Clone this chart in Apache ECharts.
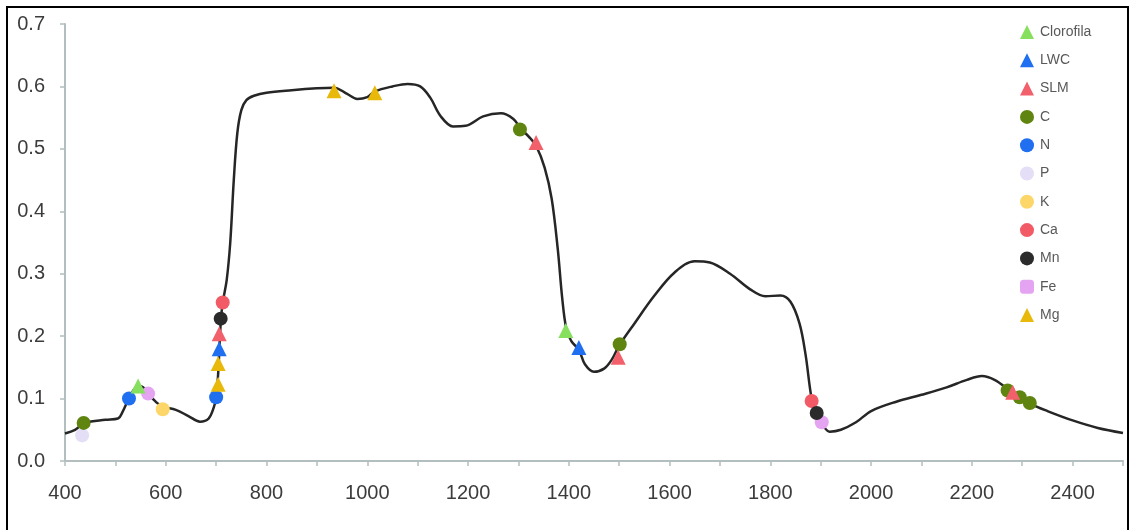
<!DOCTYPE html>
<html lang="en">
<head>
  <meta charset="UTF-8">
  <title>Reflectancia</title>
  <style>
    html, body { margin: 0; padding: 0; background: #fff; }
    #chart { width: 1132px; height: 530px; }
  </style>
</head>
<body>
  <div id="chart"></div>
  <script src="https://cdn.jsdelivr.net/npm/echarts@6/dist/echarts.min.js"></script>
  <script>
    // curva de reflectancia (longitud de onda, reflectancia)
    const wavelengths = [400, 420, 440, 480, 505, 515, 527, 545, 555, 565, 580, 594, 620, 645, 668, 685, 695, 700, 704, 707, 710, 714, 721, 728, 735, 742, 750, 760, 775, 800, 850, 900, 934, 960, 980, 1000, 1015, 1050, 1080, 1105, 1125, 1145, 1170, 1195, 1230, 1265, 1290, 1305, 1320, 1335, 1352, 1366, 1378, 1387, 1395, 1405, 1420, 1432, 1450, 1470, 1485, 1500, 1530, 1570, 1610, 1650, 1680, 1720, 1760, 1790, 1820, 1840, 1858, 1870, 1882, 1892, 1902, 1918, 1940, 1970, 2000, 2050, 2100, 2150, 2190, 2220, 2245, 2272, 2295, 2315, 2350, 2400, 2450, 2500];
    const reflectance = [0.044, 0.050, 0.061, 0.066, 0.068, 0.080, 0.100, 0.120, 0.118, 0.108, 0.095, 0.087, 0.082, 0.072, 0.063, 0.068, 0.085, 0.102, 0.140, 0.190, 0.232, 0.258, 0.290, 0.350, 0.450, 0.525, 0.562, 0.578, 0.585, 0.590, 0.594, 0.597, 0.598, 0.588, 0.580, 0.583, 0.592, 0.600, 0.604, 0.600, 0.582, 0.553, 0.536, 0.537, 0.552, 0.557, 0.548, 0.532, 0.520, 0.505, 0.470, 0.420, 0.340, 0.260, 0.212, 0.192, 0.178, 0.155, 0.143, 0.148, 0.162, 0.185, 0.220, 0.265, 0.302, 0.320, 0.318, 0.300, 0.275, 0.264, 0.265, 0.255, 0.220, 0.170, 0.100, 0.075, 0.060, 0.047, 0.050, 0.062, 0.080, 0.095, 0.106, 0.118, 0.130, 0.136, 0.130, 0.115, 0.102, 0.092, 0.080, 0.065, 0.053, 0.045];

    // marcadores por variable
    const clorofila = [[545, 0.120], [1394, 0.209]];
    const lwc = [[706, 0.180], [1420, 0.182]];
    const slm = [[706, 0.204], [1335, 0.510], [1498, 0.166], [2281, 0.110]];
    const carbono = [[437, 0.061], [1303, 0.531], [1501, 0.187], [2271, 0.113], [2295, 0.102], [2315, 0.093]];
    const nitrogeno = [[527, 0.100], [700, 0.102]];
    const fosforo = [[434, 0.041]];
    const potasio = [[594, 0.083]];
    const calcio = [[713, 0.254], [1882, 0.096]];
    const manganeso = [[709, 0.228], [1892, 0.077]];
    const hierro = [[565, 0.108], [1902, 0.062]];
    const magnesio = [[704, 0.156], [704, 0.123], [934, 0.593], [1015, 0.590]];

    const xTicks = { min: 400, max: 2500, step: 100 };
    const yTicks = { min: 0, max: 0.7, step: 0.1 };

    const chart = echarts.init(document.getElementById('chart'));

    function marker(name, data, symbol, color) {
      return {
        name: name,
        type: 'scatter',
        data: data,
        symbol: symbol,
        symbolSize: symbol === 'triangle' ? 15 : 14,
        itemStyle: { color: color, opacity: 1 },
        z: 3
      };
    }

    const lineData = wavelengths.map((w, i) => [w, reflectance[i]]);

    const option = {
      animation: false,
      grid: { left: 65, right: 9, top: 24, bottom: 69 },
      graphic: [{
        type: 'rect',
        shape: { x: 7, y: 7, width: 1121, height: 530 },
        style: { fill: 'none', stroke: '#000', lineWidth: 2 },
        silent: true
      }],
      legend: {
        orient: 'vertical',
        left: 1015,
        top: 20,
        itemGap: 14.3,
        itemWidth: 14,
        itemHeight: 14,
        textStyle: { fontFamily: 'Liberation Sans', fontSize: 14, color: '#595959', padding: [0, 0, 0, 1] },
        data: [
          { name: 'Clorofila', icon: 'triangle' },
          { name: 'LWC', icon: 'triangle' },
          { name: 'SLM', icon: 'triangle' },
          { name: 'C', icon: 'circle' },
          { name: 'N', icon: 'circle' },
          { name: 'P', icon: 'circle' },
          { name: 'K', icon: 'circle' },
          { name: 'Ca', icon: 'circle' },
          { name: 'Mn', icon: 'circle' },
          { name: 'Fe', icon: 'roundRect' },
          { name: 'Mg', icon: 'triangle' }
        ]
      },
      xAxis: {
        type: 'value',
        min: xTicks.min,
        max: xTicks.max,
        interval: xTicks.step,
        splitLine: { show: false },
        axisLine: { lineStyle: { color: '#b3bfbf', width: 2 } },
        axisTick: { length: 5, lineStyle: { color: '#b3bfbf', width: 1.5 } },
        axisLabel: {
          margin: 22,
          fontFamily: 'Liberation Sans',
          fontSize: 20,
          color: '#3c3c3c',
          formatter: v => (v % 200 === 0 ? String(v) : '')
        }
      },
      yAxis: {
        type: 'value',
        min: yTicks.min,
        max: yTicks.max,
        interval: yTicks.step,
        splitLine: { show: false },
        axisLine: { show: true, lineStyle: { color: '#b3bfbf', width: 2 } },
        axisTick: { show: true, length: 5, lineStyle: { color: '#b3bfbf', width: 1.5 } },
        axisLabel: {
          margin: 20,
          fontFamily: 'Liberation Sans',
          fontSize: 20,
          color: '#3c3c3c',
          formatter: v => v.toFixed(1)
        }
      },
      series: [
        {
          name: 'Reflectancia',
          type: 'line',
          data: lineData,
          smooth: 0.35,
          showSymbol: false,
          lineStyle: { color: '#262626', width: 2.5 },
          z: 2
        },
        marker('P', fosforo, 'circle', '#e4def7'),
        marker('C', carbono, 'circle', '#5f8410'),
        marker('N', nitrogeno, 'circle', '#1f6ff0'),
        marker('K', potasio, 'circle', '#fdd66a'),
        marker('Fe', hierro, 'circle', '#e4a4f2'),
        marker('Ca', calcio, 'circle', '#f25a66'),
        marker('Mn', manganeso, 'circle', '#2b2b2b'),
        marker('Mg', magnesio, 'triangle', '#e8b80a'),
        marker('LWC', lwc, 'triangle', '#1f6ff0'),
        marker('SLM', slm, 'triangle', '#f2606c'),
        marker('Clorofila', clorofila, 'triangle', '#86e05e')
      ]
    };

    chart.setOption(option);
  </script>
</body>
</html>
